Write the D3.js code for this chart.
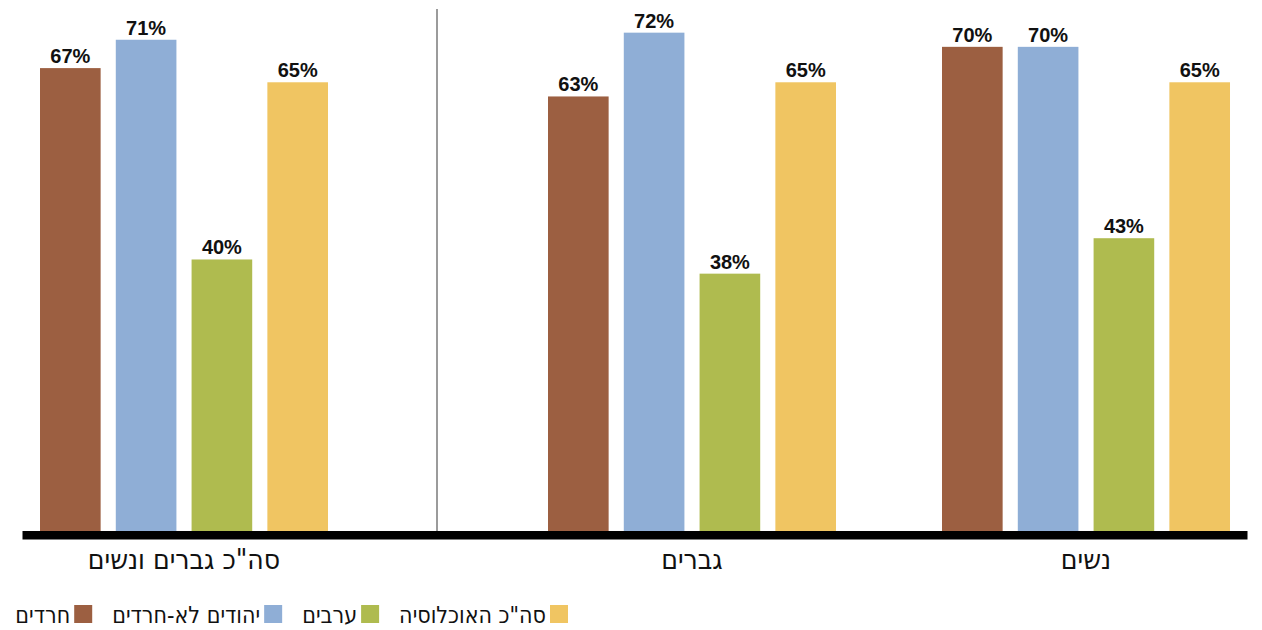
<!DOCTYPE html>
<html lang="he">
<head>
<meta charset="utf-8">
<script src="https://cdn.jsdelivr.net/npm/d3@7"></script>
<style>
  html, body { margin: 0; padding: 0; background: #fff; }
  svg { display: block; }
  .val { font-family: "Liberation Sans", Arial, sans-serif; font-weight: bold; font-size: 20px; fill: #111; }
  .cat { font-family: "DejaVu Sans Condensed", "DejaVu Sans", sans-serif; font-stretch: condensed; font-size: 28px; fill: #111; }
  .leg { font-family: "DejaVu Sans Condensed", "DejaVu Sans", sans-serif; font-stretch: condensed; font-size: 23px; fill: #111; }
</style>
</head>
<body>
<svg id="chart" width="1262" height="630"></svg>
<script>
// ---- data ----
const groups = ["סה\"כ גברים ונשים", "גברים", "נשים"];
const series = ["חרדים", "יהודים לא-חרדים", "ערבים", "סה\"כ האוכלוסיה"];
const haredim   = [67, 63, 70];
const nonHaredi = [71, 72, 70];
const arabs     = [40, 38, 43];
const totalPop  = [65, 65, 65];
const seriesValues = [haredim, nonHaredi, arabs, totalPop];
const colors = ["#9C5F41", "#8FAED6", "#AFBB4F", "#F0C562"];

const svg = d3.select("#chart");
const baseY = 531;      // top of thick baseline
const axisX0 = 22.5, axisX1 = 1247.5;
const sepX = 437;

// y scale (zero sits just under the drawn baseline)
const y = d3.scaleLinear().domain([0, 80]).range([543, 543 - 80 * 7.088]);

// outer scales: left panel holds the total group, right panel the two genders
const xLeft = d3.scaleBand().domain([groups[0]]).range([40, 328]).padding(0);
const xRight = d3.scaleBand().domain(groups.slice(1)).range([548, 1229])
  .paddingInner(0.2716).paddingOuter(0);
const groupX = g => (g === groups[0] ? xLeft(g) : xRight(g));

const xIn = d3.scaleBand().domain(series).range([0, xLeft.bandwidth()]).paddingInner(0.2).paddingOuter(0);

const data = [];
groups.forEach((g, gi) => {
  series.forEach((s, si) => {
    data.push({ g, s, si, v: seriesValues[si][gi] });
  });
});

// separator
svg.append("line")
  .attr("x1", sepX).attr("x2", sepX)
  .attr("y1", 9).attr("y2", baseY)
  .attr("stroke", "#8a8a8a").attr("stroke-width", 1.7);

// bars
svg.append("g").selectAll("rect").data(data).join("rect")
  .attr("x", d => groupX(d.g) + xIn(d.s))
  .attr("y", d => y(d.v))
  .attr("width", xIn.bandwidth())
  .attr("height", d => baseY - y(d.v))
  .attr("fill", d => colors[d.si]);

// value labels
svg.append("g").selectAll("text").data(data).join("text")
  .attr("class", "val")
  .attr("x", d => groupX(d.g) + xIn(d.s) + xIn.bandwidth() / 2)
  .attr("y", d => y(d.v) - 5)
  .attr("text-anchor", "middle")
  .text(d => d.v + "%");

// thick baseline
svg.append("rect")
  .attr("x", axisX0).attr("y", baseY)
  .attr("width", axisX1 - axisX0).attr("height", 8.5)
  .attr("fill", "#000");

// category labels
svg.append("g").selectAll("text").data(groups).join("text")
  .attr("class", "cat")
  .attr("x", g => groupX(g) + xLeft.bandwidth() / 2)
  .attr("y", 569)
  .attr("text-anchor", "middle")
  .text(g => g);

// legend: right-to-left flow
const legY = 605, sq = 18;
let cursor = 568;
const leg = svg.append("g");
const legOrder = [3, 2, 1, 0];
legOrder.forEach(si => {
  leg.append("rect")
    .attr("x", cursor - sq).attr("y", legY)
    .attr("width", sq).attr("height", sq)
    .attr("fill", colors[si]);
  const t = leg.append("text")
    .attr("class", "leg")
    .attr("x", cursor - sq - 4)
    .attr("y", legY + sq)
    .attr("text-anchor", "end")
    .text(series[si]);
  const w = t.node().getComputedTextLength();
  cursor = cursor - sq - 4 - w - 20;
});
</script>
</body>
</html>
